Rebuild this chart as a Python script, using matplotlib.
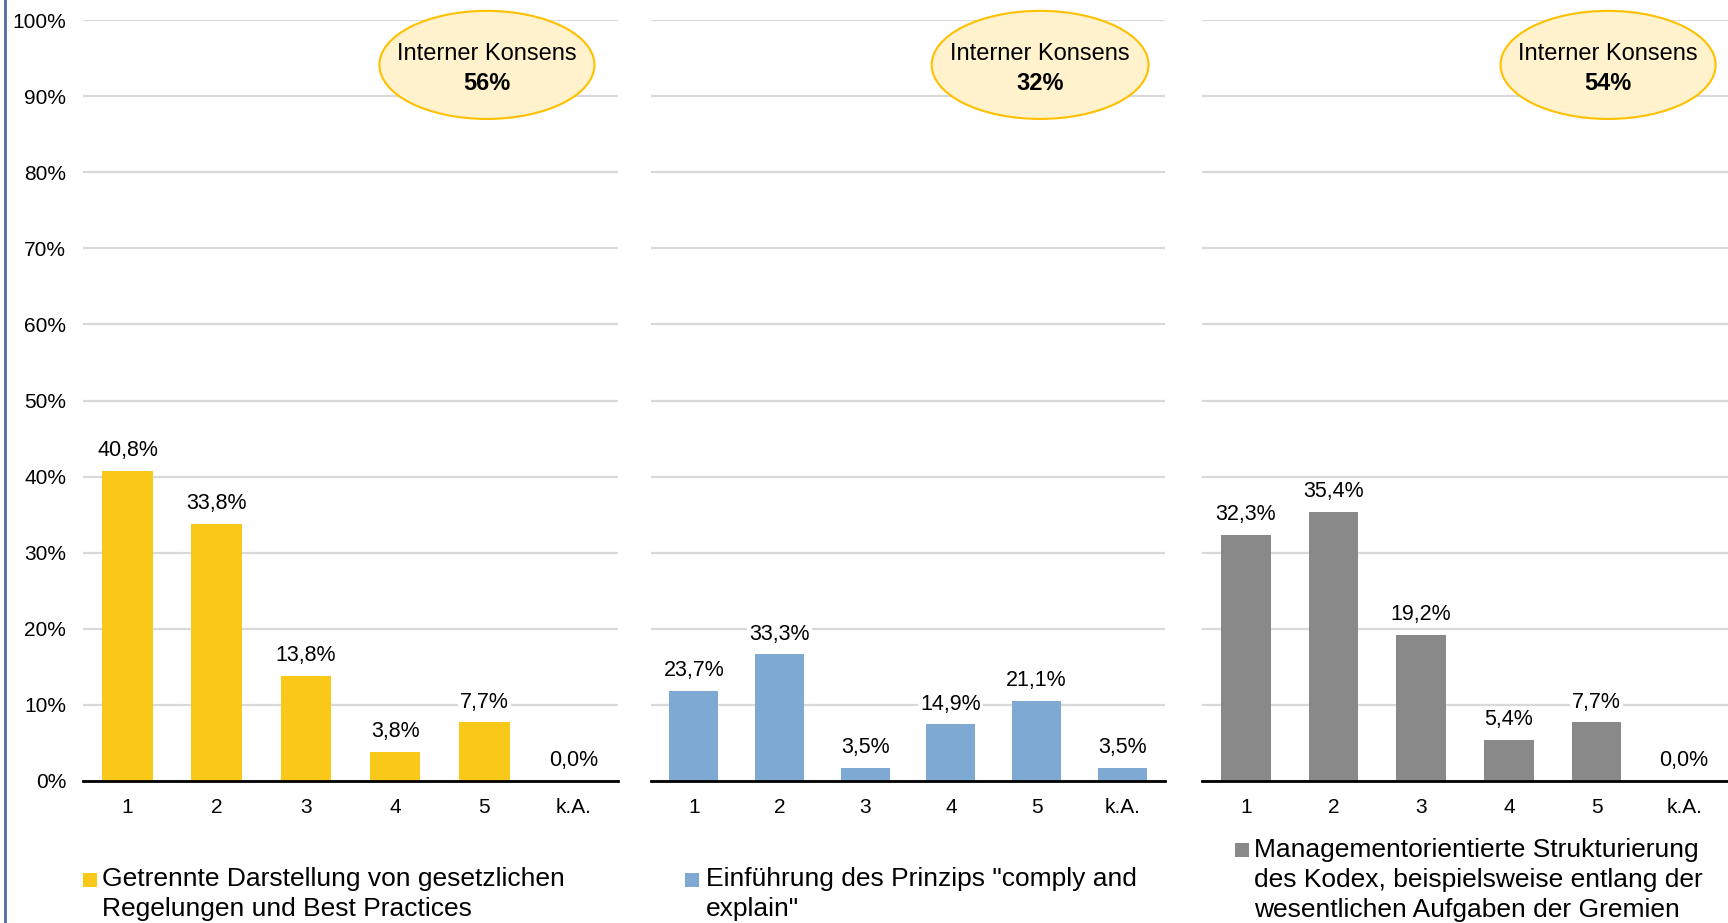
import numpy as np
import matplotlib
matplotlib.use("Agg")
import matplotlib.pyplot as plt
from matplotlib.patches import Ellipse, Rectangle
from matplotlib.lines import Line2D

plt.rcParams['font.family'] = ['Liberation Sans', 'DejaVu Sans']

categories = ['1', '2', '3', '4', '5', 'k.A.']
getrennt = [40.8, 33.8, 13.8, 3.8, 7.7, 0.0]
comply = [23.7, 33.3, 3.5, 14.9, 21.1, 3.5]
management = [32.3, 35.4, 19.2, 5.4, 7.7, 0.0]
konsens = [56, 32, 54]
legend_texts = [
    "Getrennte Darstellung von gesetzlichen\nRegelungen und Best Practices",
    "Einführung des Prinzips \"comply and\nexplain\"",
    "Managementorientierte Strukturierung\ndes Kodex, beispielsweise entlang der\nwesentlichen Aufgaben der Gremien",
]
colors = ['#FAC818', '#7EA9D2', '#898989']
# the middle panel in the original uses a 0-200 % scale (no axis labels shown)
ymax = [100, 200, 100]

W, H = 1728, 923
fig = plt.figure(figsize=(W / 100, H / 100), dpi=100)

bottom = 1 - 781 / H
height = (781 - 20) / H
boxes = [(83 / W, bottom, 535 / W, height),
         (651 / W, bottom, 514 / W, height),
         (1202 / W, bottom, 526 / W, height)]
ell_x = [(0.755, 0.402), (0.757, 0.422), (0.772, 0.409)]
legend_pos = [(83, 873, 102, 879), (685, 873, 706, 879), (1235, 843, 1254, 850)]

for k, vals in enumerate([getrennt, comply, management]):
    ax = fig.add_axes(boxes[k])
    x = np.arange(len(categories))
    ax.bar(x, vals, width=0.57, color=colors[k], zorder=2)
    ax.set_xlim(-0.5, 5.5)
    ax.set_ylim(0, ymax[k])
    ticks = np.linspace(0, ymax[k], 11)
    ax.set_yticks(ticks)
    ax.yaxis.grid(True, color='#D9D9D9', lw=1.6)
    ax.set_axisbelow(True)
    for s in ['left', 'right', 'top']:
        ax.spines[s].set_visible(False)
    ax.spines['bottom'].set_color('black')
    ax.spines['bottom'].set_linewidth(2)
    ax.spines['bottom'].set_zorder(4)
    ax.tick_params(length=0)
    ax.set_xticks(x)
    ax.set_xticklabels(categories, fontsize=15)
    ax.tick_params(axis='x', pad=12.5)
    if k == 0:
        ax.set_yticklabels([f'{int(t)}%' for t in ticks], fontsize=15)
        ax.tick_params(axis='y', pad=12)
    else:
        ax.set_yticklabels([])
    for i, v in enumerate(vals):
        ax.annotate(f'{v:.1f}'.replace('.', ',') + '%', (i, v), xytext=(0, 7),
                    textcoords='offset points', ha='center', va='bottom', fontsize=15.5,
                    bbox=dict(fc='white', ec='none', pad=1.5), zorder=5)
    cx, ew = ell_x[k]
    ax.add_patch(Ellipse((cx, 0.941), ew, 0.142, transform=ax.transAxes,
                         fc='#FFF2CC', ec='#FFC000', lw=1.5, zorder=6, clip_on=False))
    ax.text(cx, 0.955, 'Interner Konsens', transform=ax.transAxes, ha='center',
            va='center', fontsize=17, zorder=7)
    ax.text(cx, 0.917, f'{konsens[k]}%', transform=ax.transAxes, ha='center',
            va='center', fontsize=17, fontweight='bold', zorder=7)

    sx, sy, tx, ty = legend_pos[k]
    fig.add_artist(Rectangle((sx / W, 1 - (sy + 14) / H), 14 / W, 14 / H,
                             transform=fig.transFigure, fc=colors[k], ec='none'))
    fig.text(tx / W, 1 - (ty - 12) / H, legend_texts[k], ha='left', va='top',
             fontsize=19, linespacing=1.32)

fig.add_artist(Line2D([5 / W, 5 / W], [0, 1], transform=fig.transFigure,
                      color='#4F6D9B', lw=2))

fig.savefig('out.png', dpi=100)
